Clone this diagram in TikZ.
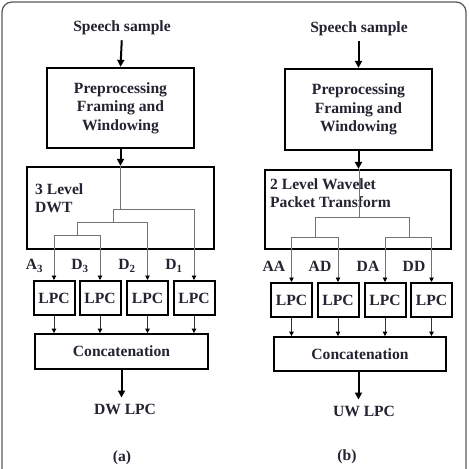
\documentclass[tikz,border=0pt]{standalone}
\usepackage{fontspec}
\setmainfont{Liberation Serif}
\usetikzlibrary{arrows.meta}
\definecolor{textc}{RGB}{35,35,50}
\definecolor{treec}{RGB}{115,115,115}
\definecolor{framec}{RGB}{90,90,90}
\tikzset{
  every node/.style={font=\fontsize{15.6}{18.5}\selectfont\bfseries, text=textc},
  bigbox/.style={draw=black, line width=2.3pt, inner sep=0pt},
  lpcbox/.style={draw=black, line width=2pt, minimum width=41pt, minimum height=34pt, inner sep=0pt},
  catbox/.style={draw=black, line width=1.8pt, minimum height=35pt, inner sep=0pt},
  label/.style={inner sep=0pt},
  mainarrow/.style={draw=black, line width=2pt, -{Triangle[length=7pt,width=7pt]}},
  treeline/.style={draw=treec, line width=0.9pt},
  branch/.style={draw=treec, line width=0.9pt, -{Triangle[black,length=4.5pt,width=4.5pt]}},
  feed/.style={draw=black!80, line width=0.9pt, -{Triangle[black,length=4.5pt,width=4.5pt]}},
}
\begin{document}
\begin{tikzpicture}[x=1pt, y=-1pt]
\useasboundingbox (0,0) rectangle (469,469);
\clip (0,0) rectangle (469,469);
\fill[white] (0,0) rectangle (469,469);
% outer rounded frame, open at the bottom edge
\draw[framec, line width=1.3pt, rounded corners=10pt] (2,2) rectangle (466,490);

% ---------------- (a) DWT based LPC ----------------
\node[label] (spa) at (122,28) {Speech sample};
\node[bigbox, minimum width=147pt, minimum height=80pt, align=center] (ppa) at (120.5,108)
  {Preprocessing\\Framing and\\Windowing};
\node[bigbox, minimum width=187pt, minimum height=82pt] (dwt) at (120.5,208) {};
\node[label, anchor=north west, align=left] (dwtt) at (35,183) {3 Level\\DWT};

\node[lpcbox] (la1) at (54,298) {LPC};
\node[lpcbox] (la2) at (100,298) {LPC};
\node[lpcbox] (la3) at (147.5,298) {LPC};
\node[lpcbox] (la4) at (194,298) {LPC};

\node[label] (a3) at (34.5,266) {A\textsubscript{3}};
\node[label] (d3) at (80,266) {D\textsubscript{3}};
\node[label] (d2) at (127,266) {D\textsubscript{2}};
\node[label] (d1) at (174,266) {D\textsubscript{1}};

\node[catbox, minimum width=173pt] (cata) at (121.5,351.5) {Concatenation};
\node[label] (outa) at (125,409) {DW LPC};
\node[label] (capa) at (122,458) {(a)};

\draw[mainarrow, shorten <=5pt] (spa.south) -- (ppa.north);
\draw[mainarrow] (ppa.south) -- (ppa.south |- dwt.north);

% decomposition tree
\coordinate (ta0) at (120.5,209);
\coordinate (ta1) at (113,222);
\coordinate (ta2) at (77,235);
\draw[treeline] (dwt.north -| ta0) -- (ta0);
\draw[treeline] (113,209) -- (194,209);
\draw[treeline] (113,209) -- (ta1);
\draw[treeline] (77,222) -- (147.5,222);
\draw[treeline] (77,222) -- (ta2);
\draw[treeline] (54,235) -- (100,235);
\draw[branch] (54,235) -- (la1.north);
\draw[branch] (100,235) -- (la2.north);
\draw[branch] (147.5,222) -- (la3.north);
\draw[branch] (194,209) -- (la4.north);

\foreach \n in {la1,la2,la3,la4}
  \draw[feed] (\n.south) -- (\n.south |- cata.north);
\draw[mainarrow, shorten >=6pt] (cata.south) -- (cata.south |- outa.north);

% ---------------- (b) wavelet packet based LPC ----------------
\node[label] (spb) at (359,29) {Speech sample};
\node[bigbox, minimum width=147pt, minimum height=81pt, align=center] (ppb) at (358.5,109.5)
  {Preprocessing\\Framing and\\Windowing};
\node[bigbox, minimum width=186pt, minimum height=79pt] (wpt) at (358,209.5) {};
\node[label, anchor=north west, align=left] (wptt) at (270,178) {2 Level Wavelet\\Packet Transform};

\node[lpcbox] (lb1) at (291.5,300) {LPC};
\node[lpcbox] (lb2) at (338,300) {LPC};
\node[lpcbox] (lb3) at (385,300) {LPC};
\node[lpcbox] (lb4) at (431.5,300) {LPC};

\node[label] (aa) at (274,266) {AA};
\node[label] (ad) at (320,266) {AD};
\node[label] (da) at (368,266) {DA};
\node[label] (dd) at (414,266) {DD};

\node[catbox, minimum width=172pt, minimum height=34pt] (catb) at (360,354) {Concatenation};
\node[label] (outb) at (364,411) {UW LPC};
\node[label] (capb) at (347,457) {(b)};

\coordinate (axb) at (358.5,0);
\draw[mainarrow, shorten <=5pt] (spb.south -| axb) -- (ppb.north -| axb);
\draw[mainarrow] (ppb.south -| axb) -- (wpt.north -| axb);

% packet tree
\coordinate (tb0) at (359.5,217);
\draw[treeline] (wpt.north -| tb0) -- (tb0);
\draw[treeline] (315,217) -- (409,217);
\draw[treeline] (315,217) -- (315,237);
\draw[treeline] (409,217) -- (409,237);
\draw[treeline] (291.5,237) -- (338,237);
\draw[treeline] (385,237) -- (431.5,237);
\draw[branch] (291.5,237) -- (lb1.north);
\draw[branch] (338,237) -- (lb2.north);
\draw[branch] (385,237) -- (lb3.north);
\draw[branch] (431.5,237) -- (lb4.north);

\foreach \n in {lb1,lb2,lb3,lb4}
  \draw[feed] (\n.south) -- (\n.south |- catb.north);
\draw[mainarrow, shorten >=6pt] (catb.south -| axb) -- (outb.north -| axb);
\end{tikzpicture}
\end{document}
